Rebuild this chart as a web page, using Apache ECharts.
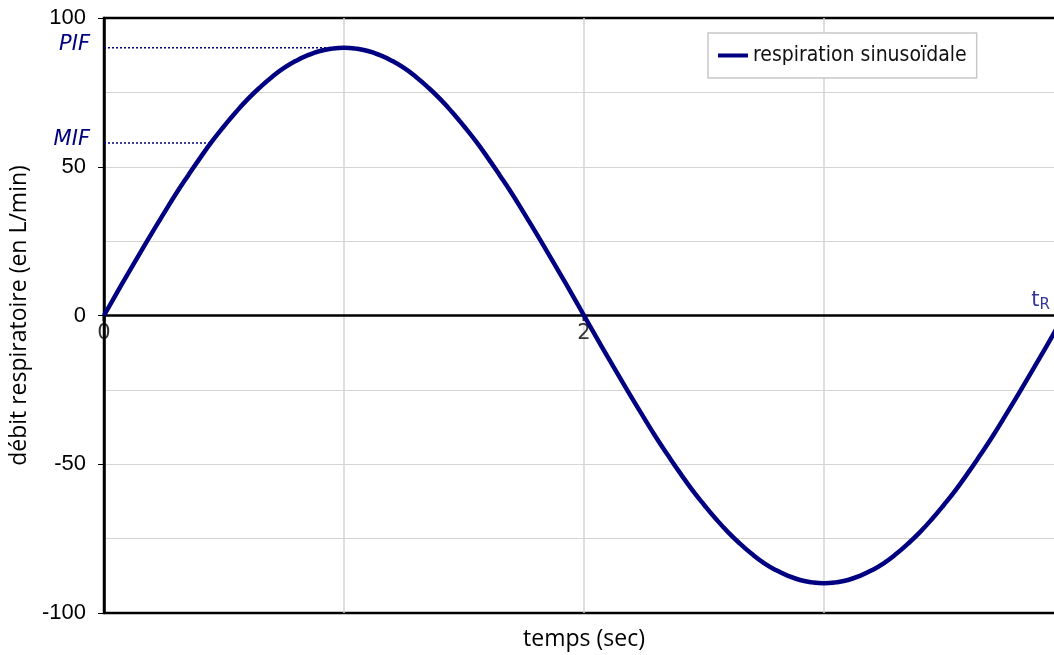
<!DOCTYPE html>
<html>
<head>
<meta charset="utf-8">
<script src="https://cdn.jsdelivr.net/npm/echarts@6/dist/echarts.min.js"></script>
<style>html,body{margin:0;padding:0;background:#fff;}#chart{width:1054px;height:655px;}</style>
</head>
<body>
<div id="chart"></div>
<script>
const times = [0,0.05,0.1,0.15,0.2,0.25,0.3,0.35,0.4,0.45,0.5,0.55,0.6,0.65,0.7,0.75,0.8,0.85,0.9,0.95,
  1.0,1.05,1.1,1.15,1.2,1.25,1.3,1.35,1.4,1.45,1.5,1.55,1.6,1.65,1.7,1.75,1.8,1.85,1.9,1.95,
  2.0,2.05,2.1,2.15,2.2,2.25,2.3,2.35,2.4,2.45,2.5,2.55,2.6,2.65,2.7,2.75,2.8,2.85,2.9,2.95,
  3.0,3.05,3.1,3.15,3.2,3.25,3.3,3.35,3.4,3.45,3.5,3.55,3.6,3.65,3.7,3.75,3.8,3.85,3.9,3.95,4.0];
const flow = [0,7.1,14.1,21.0,27.8,34.4,40.9,47.0,52.9,58.5,63.6,68.4,72.8,76.7,80.2,83.2,85.6,87.5,88.9,89.7,
  90,89.7,88.9,87.5,85.6,83.2,80.2,76.7,72.8,68.4,63.6,58.5,52.9,47.0,40.9,34.4,27.8,21.0,14.1,7.1,
  0,-7.1,-14.1,-21.0,-27.8,-34.4,-40.9,-47.0,-52.9,-58.5,-63.6,-68.4,-72.8,-76.7,-80.2,-83.2,-85.6,-87.5,-88.9,-89.7,
  -90,-89.7,-88.9,-87.5,-85.6,-83.2,-80.2,-76.7,-72.8,-68.4,-63.6,-58.5,-52.9,-47.0,-40.9,-34.4,-27.8,-21.0,-14.1,-7.1,0];
const seriesName = 'respiration sinusoïdale';
const pif = 90, pifTime = 1;
const mif = 58, mifTime = 0.44;
const endTime = 4;
const xTickLabels = [0, 2, 4];
const xTitle = 'temps (sec)';
const yTitle = 'débit respiratoire (en L/min)';

const navy = '#000080';
const gridColor = '#d4d4d4';
const chart = echarts.init(document.getElementById('chart'));
chart.setOption({
  animation: false,
  backgroundColor: '#fff',
  grid: {left: 104, top: 18, width: 960, height: 595, outerBoundsMode: 'none', containLabel: false,
    show: true, borderColor: '#000', borderWidth: 2.5, backgroundColor: 'transparent'},
  legend: {
    data: [seriesName], left: 708, top: 33, padding: [12, 10, 12, 10],
    backgroundColor: '#fff', borderColor: '#c8c8c8', borderWidth: 1.5,
    icon: 'rect', itemWidth: 30, itemHeight: 4, itemGap: 6,
    textStyle: {fontFamily: 'DejaVu Sans Condensed, Open Sans, sans-serif', fontSize: 21, color: '#111'}
  },
  xAxis: [{
    type: 'value', min: 0, max: endTime, interval: 1,
    axisLine: {show: true, onZero: true, lineStyle: {color: '#000', width: 2.5}},
    axisTick: {show: false},
    axisLabel: {show: false},
    splitLine: {show: true, showMinLine: false, showMaxLine: false, lineStyle: {color: gridColor, width: 1.5}}
  }, {
    type: 'value', min: 0, max: endTime, position: 'bottom',
    axisLine: {show: false, onZero: false}, axisTick: {show: false}, axisLabel: {show: false}, splitLine: {show: false},
    name: xTitle, nameLocation: 'middle', nameGap: 15,
    nameTextStyle: {fontFamily: 'Open Sans', fontSize: 23, color: '#000'}
  }],
  yAxis: {
    type: 'value', min: -100, max: 100, interval: 50,
    axisLine: {show: true, onZero: false, lineStyle: {color: '#000', width: 2.5}},
    axisTick: {show: true, length: 6, lineStyle: {color: '#000', width: 1}},
    axisLabel: {margin: 18, fontFamily: 'Liberation Sans', fontSize: 22, color: '#000'},
    splitLine: {show: true, showMinLine: false, showMaxLine: false, lineStyle: {color: gridColor, width: 1}},
    minorTick: {show: false, splitNumber: 2},
    minorSplitLine: {show: true, lineStyle: {color: gridColor, width: 1}},
    name: yTitle, nameLocation: 'middle', nameGap: 70,
    nameTextStyle: {fontFamily: 'Open Sans', fontSize: 23, color: '#000'}
  },
  series: [{
    name: seriesName, type: 'line', smooth: true, showSymbol: false, symbol: 'none',
    data: times.map((t, i) => [t, flow[i]]),
    lineStyle: {color: navy, width: 4.5}, itemStyle: {color: navy}, z: 5
  }, {
    name: 'PIF', type: 'line', symbol: 'circle', symbolSize: 0, showSymbol: true,
    data: [{value: [0, pif], label: {show: true, formatter: 'PIF'}}, [pifTime, pif]],
    lineStyle: {color: navy, width: 1.5, type: [2, 2]}, itemStyle: {color: navy},
    label: {show: false, position: 'left', distance: 14, offset: [0, -3], color: navy, fontStyle: 'italic', fontFamily: 'DejaVu Sans', fontSize: 21},
    z: 4
  }, {
    name: 'MIF', type: 'line', symbol: 'circle', symbolSize: 0, showSymbol: true,
    data: [{value: [0, mif], label: {show: true, formatter: 'MIF'}}, [mifTime, mif]],
    lineStyle: {color: navy, width: 1.5, type: [2, 2]}, itemStyle: {color: navy},
    label: {show: false, position: 'left', distance: 14, offset: [0, -3], color: navy, fontStyle: 'italic', fontFamily: 'DejaVu Sans', fontSize: 21},
    z: 4
  }, {
    name: 'xticks', type: 'scatter', symbol: 'rect', symbolSize: [3, 5], symbolOffset: [0, 3],
    itemStyle: {color: '#000'},
    data: xTickLabels.map(v => [v, 0]),
    label: {show: true, position: 'bottom', distance: 2, formatter: p => String(p.value[0]),
      fontFamily: 'DejaVu Sans', fontSize: 21, color: '#000'},
    z: 3
  }, {
    name: 'tR', type: 'scatter', symbolSize: 0, data: [[endTime, 0]],
    label: {show: true, position: 'left', distance: 14, offset: [0, -15],
      formatter: 't{s|R}', color: navy, fontFamily: 'DejaVu Sans', fontSize: 21,
      rich: {s: {fontSize: 15, color: navy, fontFamily: 'DejaVu Sans', padding: [10, 0, 0, 0]}}},
    z: 6
  }]
});
</script>
</body>
</html>
